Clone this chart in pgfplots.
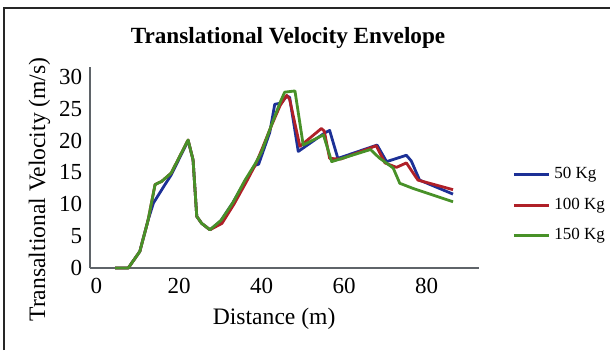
\documentclass[border=0pt]{standalone}
\usepackage{pgfplots}
\pgfplotsset{compat=1.18}
\usepackage{fontspec}
\setmainfont{Liberation Serif}
\definecolor{cblue}{RGB}{28,48,150}
\definecolor{cred}{RGB}{175,32,40}
\definecolor{cgreen}{RGB}{72,145,40}
\definecolor{caxis}{RGB}{95,100,105}
\begin{document}
\begin{tikzpicture}[x=0.5pt,y=-0.5pt]
\useasboundingbox (0,0) rectangle (610,350);
\draw[line width=1.1pt,black!85] (4,350) -- (4,8) -- (610,8);
\node[font=\bfseries\fontsize{11.6}{13}\selectfont] at (288,38) {Translational Velocity Envelope};
\begin{axis}[
  at={(45.15pt,-134pt)}, anchor=south west,
  scale only axis, width=194.35pt, height=100.65pt,
  xmin=-1.5, xmax=92.7, ymin=0, ymax=31.6,
  axis x line*=bottom, axis y line*=left,
  axis line style={caxis, line width=1pt},
  every outer x axis line/.append style={-}, every outer y axis line/.append style={-},
  xtick={0,20,40,60,80}, ytick={0,5,10,15,20,25,30},
  major tick length=0pt,
  /pgf/number format/assume math mode=true,
  tick label style={font=\fontsize{11.5}{13}\selectfont},
  xticklabel style={yshift=-1.5pt},
  yticklabel style={xshift=-0.5pt},
  xlabel={Distance (m)}, ylabel={Transaltional Velocity (m/s)},
  label style={font=\fontsize{11.8}{13}\selectfont},
  xlabel style={at={(axis description cs:0.473,0)}, anchor=center, yshift=-25.5pt},
  ylabel style={at={(axis description cs:-0.131,0.39)}, anchor=center},
  legend style={at={(1.085,0.313)}, anchor=west, draw=none, fill=none,
    font=\fontsize{8.5}{10}\selectfont, row sep=4pt, inner sep=0pt},
  legend cell align=left,
  legend image code/.code={\draw[#1, line width=1.5pt] (0pt,0pt) -- (17.5pt,0pt);},
  clip=false,
]
\addplot[cblue, line width=1.4pt, line join=round] coordinates {
(4.5,0) (7.7,0) (10.5,2.6) (12.5,7.5) (13.8,10.2) (16.6,13.1) (18.1,14.6) (22.2,20.0) (23.4,17) (24.3,8.1) (25.5,7.0) (27.5,6.0) (30,7.3) (33,10.2) (36,13.6) (38.4,16.1) (39.3,16.3) (42,21.3) (43.2,25.7) (44.8,25.9) (46.1,27.0) (46.8,26.8) (48.9,18.3) (55.3,21.2) (56.5,21.6) (58.5,17.2) (68.0,19.3) (70.3,16.7) (75.1,17.7) (76.3,16.8) (78.3,13.8) (86.4,11.6)
};
\addlegendentry{50 Kg}
\addplot[cred, line width=1.4pt, line join=round] coordinates {
(4.5,0) (7.7,0) (10.5,2.6) (12.5,7.5) (14.2,13.1) (15.8,13.6) (18.1,14.9) (22.2,20.1) (23.4,17) (24.3,8.1) (25.5,7.0) (27.5,6.0) (30.4,7.0) (33.3,10) (36.3,13.5) (38.5,16.2) (40,18.5) (42.5,22.5) (44.5,25.5) (46.1,27.1) (46.8,26.5) (49.3,19.1) (54.5,21.9) (55.2,21.5) (56.5,17.2) (59.2,17.1) (67.8,19.2) (69.9,16.5) (72.7,15.8) (75.1,16.5) (77.9,13.8) (86.4,12.3)
};
\addlegendentry{100 Kg}
\addplot[cgreen, line width=1.4pt, line join=round] coordinates {
(4.5,0) (7.7,0) (10.5,2.6) (12.5,7.5) (14.2,13.1) (15.8,13.6) (18.1,14.9) (22.2,20.1) (23.4,17) (24.3,8.1) (25.5,7.0) (27.5,6.0) (30.2,7.5) (33,10.2) (36,13.8) (38.5,16.4) (40,18.2) (42.5,22.6) (44.5,26.0) (45.6,27.6) (48.1,27.8) (50.1,19.3) (55,20.9) (57,16.7) (66.4,18.6) (68.5,17.3) (71.9,15.7) (73.5,13.3) (76.7,12.5) (86.4,10.4)
};
\addlegendentry{150 Kg}
\end{axis}
\end{tikzpicture}
\end{document}
